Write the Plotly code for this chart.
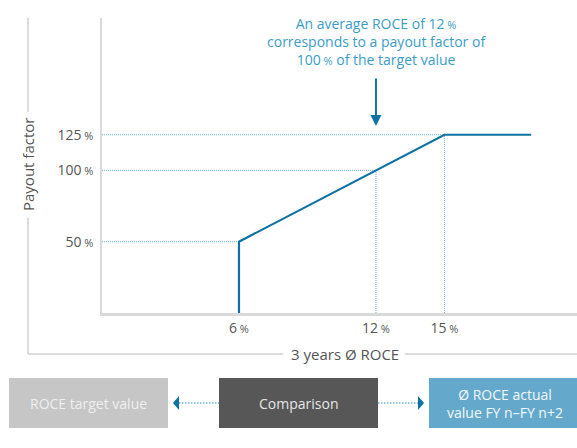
import plotly.graph_objects as go

# ---- data ----
roce_curve_x = [6, 6, 15, 18.8]
payout_curve_y = [0, 50, 125, 125]
guide_x = [6, 12, 15]
guide_y = [50, 100, 125]
x_tick_vals = [6, 12, 15]
x_tick_text = ["6", "12", "15"]
y_tick_vals = [50, 100, 125]
y_tick_text = ["50", "100", "125"]
box_labels = ["ROCE target value", "Comparison", "Ø ROCE actual<br>value FY n–FY n+2"]
box_colors = ["#c6c6c6", "#575757", "#64a9cb"]
box_text_colors = ["#eeeeee", "#e6e6e6", "#f2f8fb"]

FONT = "Open Sans"
LINE_BLUE = "#0e72a5"
DOT_BLUE = "#6fb3d9"
GRAY_TXT = "#555555"
FRAME = "#cfcfcf"

# pixel geometry of plot area
L, R, T, B = 102, 577, 18, 313
W, H = R - L, B - T
XMAX = W / 22.83
YMAX = H / 1.426


def px(x):
    return (x - L) / W


def py(y):
    return (B - y) / H


def pct(s, size=11):
    return f"{s}<span style='font-size:{size}px'> %</span>"


fig = go.Figure()

# dotted guides
for gx, gy in zip(guide_x, guide_y):
    fig.add_trace(go.Scatter(x=[0, gx], y=[gy, gy], mode="lines",
                             line=dict(color=DOT_BLUE, width=1, dash="1px,1px"),
                             hoverinfo="skip", showlegend=False))
    fig.add_trace(go.Scatter(x=[gx, gx], y=[0, gy], mode="lines",
                             line=dict(color=DOT_BLUE, width=1, dash="1px,1px"),
                             hoverinfo="skip", showlegend=False))

# main curve
fig.add_trace(go.Scatter(x=roce_curve_x, y=payout_curve_y, mode="lines",
                         line=dict(color=LINE_BLUE, width=2.2),
                         showlegend=False))

shapes = []
# outer frame lines
for (x0, y0, x1, y1) in [(28, 18, 28, 112), (28, 218, 28, 354),
                         (28, 354, 283, 354), (405, 354, 577, 354)]:
    shapes.append(dict(type="line", xref="paper", yref="paper",
                       x0=px(x0), y0=py(y0), x1=px(x1), y1=py(y1),
                       line=dict(color=FRAME, width=1.5)))

# bottom boxes
box_px = [(9, 168), (219, 378), (429, 577)]
for (bx0, bx1), col in zip(box_px, box_colors):
    shapes.append(dict(type="rect", xref="paper", yref="paper",
                       x0=px(bx0), x1=px(bx1), y0=py(428), y1=py(378),
                       fillcolor=col, line=dict(width=0), layer="below"))

# dotted connectors
for (x0, x1) in [(179, 219), (378, 418)]:
    shapes.append(dict(type="line", xref="paper", yref="paper",
                       x0=px(x0), x1=px(x1), y0=py(403), y1=py(403),
                       line=dict(color=DOT_BLUE, width=1.5, dash="1.5px,1.5px")))


def tri(points):
    d = "M " + " L ".join(f"{px(a)},{py(b)}" for a, b in points) + " Z"
    return dict(type="path", xref="paper", yref="paper", path=d,
                fillcolor=LINE_BLUE, line=dict(width=0))


shapes.append(tri([(173, 403), (179, 396), (179, 410)]))
shapes.append(tri([(424, 403), (418, 396), (418, 410)]))

annotations = []
# callout text
annotations.append(dict(
    xref="paper", yref="paper", x=px(376), y=py(41), xanchor="center", yanchor="middle",
    text="An average ROCE of 12<span style='font-size:11px'> %</span><br>"
         "corresponds to a payout factor of<br>"
         "100<span style='font-size:11px'> %</span> of the target value",
    showarrow=False, align="center",
    font=dict(family=FONT, size=14, color="#3a9dc8")))
# callout arrow
annotations.append(dict(
    xref="x", yref="y", x=12, y=(B - 126) / 1.426,
    axref="x", ayref="y", ax=12, ay=(B - 77) / 1.426,
    showarrow=True, arrowhead=2, arrowsize=1.1, arrowwidth=2,
    arrowcolor=LINE_BLUE, text=""))
# axis titles
annotations.append(dict(
    xref="paper", yref="paper", x=px(28), y=py(165), text="Payout factor",
    xanchor="center", yanchor="middle",
    textangle=-90, showarrow=False,
    font=dict(family=FONT, size=15, color=GRAY_TXT)))
annotations.append(dict(
    xref="paper", yref="paper", x=px(345), y=py(354), text="3 years Ø ROCE",
    xanchor="center", yanchor="middle",
    showarrow=False, font=dict(family=FONT, size=15, color=GRAY_TXT)))
# box labels
box_centers = [88, 298, 505]
for cx, lab, tc in zip(box_centers, box_labels, box_text_colors):
    annotations.append(dict(
        xref="paper", yref="paper", x=px(cx), y=py(403), text=lab,
        xanchor="center", yanchor="middle",
        showarrow=False, align="center",
        font=dict(family=FONT, size=14, color=tc)))

fig.update_layout(
    width=577, height=448,
    margin=dict(l=L, r=577 - R, t=T, b=448 - B, autoexpand=False),
    paper_bgcolor="white", plot_bgcolor="white",
    font=dict(family=FONT, size=13, color=GRAY_TXT),
    shapes=shapes, annotations=annotations,
    xaxis=dict(range=[0, XMAX], showgrid=False, zeroline=False,
               showline=True, linecolor="#d9d9d9", linewidth=2.5,
               tickvals=x_tick_vals, ticktext=[pct(t) for t in x_tick_text],
               ticks="", tickfont=dict(family=FONT, size=14, color=GRAY_TXT)),
    yaxis=dict(range=[0, YMAX], showgrid=False, zeroline=False,
               showline=True, linecolor="#d9d9d9", linewidth=1.5,
               tickvals=y_tick_vals, ticktext=[pct(t) for t in y_tick_text],
               ticks="", ticklabelstandoff=4,
               tickfont=dict(family=FONT, size=14, color=GRAY_TXT)),
)

fig.write_html("out.html", config={"displayModeBar": False},
               post_script="document.body.style.margin='0';")
